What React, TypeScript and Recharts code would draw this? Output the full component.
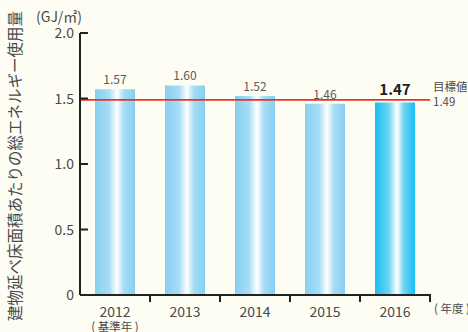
import { BarChart, Bar, XAxis, YAxis, ReferenceLine, LabelList, Cell } from 'recharts';

const years = ['2012', '2013', '2014', '2015', '2016'];
const yearNotes = ['( 基準年 )', '', '', '', ''];
const usage = [1.57, 1.6, 1.52, 1.46, 1.47];
const yTicks = [0, 0.5, 1, 1.5, 2];
const target = 1.49;

const FONT = '"Noto Sans CJK JP", "Noto Sans", sans-serif';
const TEXT = '#4a4a4a';

const chartData = years.map((year, i) => ({ year, note: yearNotes[i], usage: usage[i] }));

function YTick(props: any) {
  const { x, y, payload } = props;
  const label = payload.value === 0 ? '0' : payload.value.toFixed(1);
  return (
    <g>
      <line x1={x + 6} x2={x + 14} y1={y} y2={y} stroke="#222" strokeWidth={2} />
      <text x={x} y={y} dy={5} textAnchor="end" fontSize={14} fill={TEXT} fontFamily={FONT}>
        {label}
      </text>
    </g>
  );
}

function XTick(props: any) {
  const { x, y, payload, index } = props;
  const edge = x + (payload.offset ?? 35);
  return (
    <g>
      <line x1={edge} x2={edge} y1={y - 1} y2={y - 9} stroke="#222" strokeWidth={2} />
      <text x={x} y={y + 14} textAnchor="middle" fontSize={14} fill={TEXT} fontFamily={FONT}>
        {payload.value}
      </text>
      {yearNotes[index] && (
        <text x={x} y={y + 28} textAnchor="middle" fontSize={11.5} fill={TEXT} fontFamily={FONT}>
          {yearNotes[index]}
        </text>
      )}
    </g>
  );
}

function ValueLabel(props: any) {
  const { x, y, width, value, index } = props;
  const last = index === usage.length - 1;
  return (
    <text
      x={x + width / 2}
      y={y - (last ? 7 : 5)}
      textAnchor="middle"
      fontSize={last ? 15 : 12}
      fontWeight={last ? 'bold' : 'normal'}
      fill={last ? '#222' : '#5a5a5a'}
      fontFamily={FONT}
    >
      {value.toFixed(2)}
    </text>
  );
}

function TargetLabel(props: any) {
  const { viewBox } = props;
  const x = viewBox.x + viewBox.width + 3;
  const y = viewBox.y;
  return (
    <g fontFamily={FONT} fill={TEXT} fontSize={11.5}>
      <text x={x} y={y - 9}>目標値</text>
      <text x={x} y={y + 6}>{target.toFixed(2)}</text>
    </g>
  );
}

function YTitle(props: any) {
  const { viewBox } = props;
  const cy = viewBox.y + viewBox.height / 2 + 2;
  return (
    <text
      x={14}
      y={cy}
      transform={`rotate(-90, 14, ${cy})`}
      textAnchor="middle"
      dominantBaseline="central"
      fontSize={15.5}
      fill={TEXT}
      fontFamily={FONT}
    >
      建物延べ床面積あたりの総エネルギー使用量
    </text>
  );
}

export default function App() {
  return (
    <div style={{ position: 'absolute', left: 0, top: 0, width: 468, height: 332, background: '#fdfdf4' }}>
      <BarChart
        width={468}
        height={332}
        data={chartData}
        margin={{ top: 33, right: 38, bottom: 7, left: 20 }}
        barCategoryGap={15}
      >
        <defs>
          <linearGradient id="barSoft" x1="0" y1="0" x2="1" y2="0">
            <stop offset="0%" stopColor="#86cff1" />
            <stop offset="35%" stopColor="#a6ddf5" />
            <stop offset="55%" stopColor="#ffffff" />
            <stop offset="72%" stopColor="#a6ddf5" />
            <stop offset="100%" stopColor="#86cff1" />
          </linearGradient>
          <linearGradient id="barStrong" x1="0" y1="0" x2="1" y2="0">
            <stop offset="0%" stopColor="#18bff0" />
            <stop offset="35%" stopColor="#6fd4f5" />
            <stop offset="55%" stopColor="#ffffff" />
            <stop offset="72%" stopColor="#6fd4f5" />
            <stop offset="100%" stopColor="#18bff0" />
          </linearGradient>
        </defs>
        <XAxis
          dataKey="year"
          height={30}
          axisLine={{ stroke: '#222', strokeWidth: 2 }}
          tickLine={false}
          tick={<XTick />}
          interval={0}
        />
        <YAxis
          width={60}
          domain={[0, 2]}
          ticks={yTicks}
          axisLine={{ stroke: '#222', strokeWidth: 2 }}
          tickLine={false}
          tickSize={0}
          tickMargin={6}
          tick={<YTick />}
          label={<YTitle />}
        />
        <Bar dataKey="usage" isAnimationActive={false}>
          {chartData.map((d, i) => (
            <Cell key={d.year} fill={i === chartData.length - 1 ? 'url(#barStrong)' : 'url(#barSoft)'} />
          ))}
          <LabelList dataKey="usage" content={<ValueLabel />} />
        </Bar>
        <ReferenceLine y={target} stroke="#e8332a" strokeWidth={1.8} label={<TargetLabel />} />
      </BarChart>
      <div
        style={{
          position: 'absolute',
          left: 36,
          top: 6,
          fontSize: 14,
          color: TEXT,
          fontFamily: FONT,
        }}
      >
        (GJ/㎡)
      </div>
      <div
        style={{
          position: 'absolute',
          left: 434,
          top: 300,
          fontSize: 11.5,
          color: TEXT,
          fontFamily: FONT,
          whiteSpace: 'nowrap',
        }}
      >
        ( 年度 )
      </div>
    </div>
  );
}
